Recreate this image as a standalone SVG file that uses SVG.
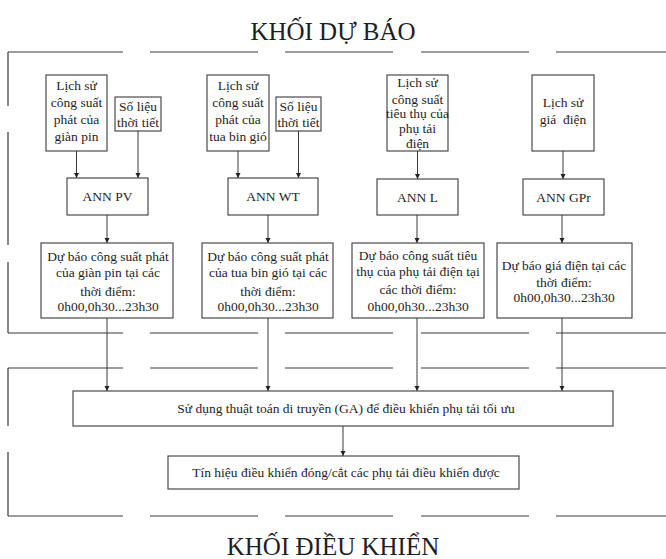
<svg xmlns="http://www.w3.org/2000/svg" width="666" height="559" viewBox="0 0 666 559">
<style>
.bx{fill:#fff;stroke:#3a3a3a;stroke-width:1.1}
.t{font-family:"Liberation Serif","Times New Roman",serif;font-size:13.5px;fill:#1e1e1e;text-anchor:middle}
.title{font-family:"Liberation Serif","Times New Roman",serif;font-size:25px;fill:#1e1e1e;text-anchor:middle}
.fr{stroke:#3a3a3a;stroke-width:1.2;fill:none}
.c{stroke:#3a3a3a;stroke-width:1;fill:none;marker-end:url(#ah)}
</style>
<defs>
<marker id="ah" markerUnits="userSpaceOnUse" markerWidth="6" markerHeight="6" refX="5" refY="2.5" orient="auto">
<path d="M0,0 L5,2.5 L0,5 z" fill="#222"/>
</marker>
</defs>
<rect width="666" height="559" fill="#fff"/>

<text class="title" x="333" y="40">KHỐI DỰ BÁO</text>
<text class="title" x="333" y="555">KHỐI ĐIỀU KHIỂN</text>

<g id="frames">
<path class="fr" d="M8,52H123M150,52H258M285,52H393M421,52H529M556,52H666"/>
<path class="fr" d="M8,333H123M150,333H258M285,333H393M421,333H529M556,333H666"/>
<path class="fr" d="M8,52V106M8,132V245M8,262V333"/>
<path class="fr" d="M8,368H123M150,368H258M285,368H393M421,368H529M556,368H666"/>
<path class="fr" d="M8,516H123M150,516H258M285,516H393M421,516H529M556,516H666"/>
<path class="fr" d="M8,368V426M8,452V516"/>
</g>

<g id="connectors">
<path class="c" d="M76.5,151V178"/>
<path class="c" d="M138,131V178"/>
<path class="c" d="M238,151V178"/>
<path class="c" d="M298.5,131V178"/>
<path class="c" d="M417.5,151V179"/>
<path class="c" d="M563,151V179"/>
<path class="c" d="M107,215V243"/>
<path class="c" d="M268,215V243"/>
<path class="c" d="M417,215V243"/>
<path class="c" d="M562,215V243"/>
<path class="c" d="M107,318V391"/>
<path class="c" d="M268,318V391"/>
<path class="c" d="M417,318V391"/>
<path class="c" d="M562,318V391"/>
<path class="c" d="M343,426V456"/>
</g>

<g id="pv-hist"><rect class="bx" x="46" y="75" width="61" height="76"/>
<text class="t" x="76.5" y="90">Lịch sử</text><text class="t" x="76.5" y="107">công suất</text><text class="t" x="76.5" y="124">phát của</text><text class="t" x="76.5" y="141">giàn pin</text></g>
<g id="pv-weather"><rect class="bx" x="115" y="97" width="46" height="34"/>
<text class="t" x="138" y="111">Số liệu</text><text class="t" x="138" y="127">thời tiết</text></g>
<g id="wt-hist"><rect class="bx" x="207" y="75" width="62" height="76"/>
<text class="t" x="238" y="90">Lịch sử</text><text class="t" x="238" y="107">công suất</text><text class="t" x="238" y="124">phát của</text><text class="t" x="238" y="141">tua bin gió</text></g>
<g id="wt-weather"><rect class="bx" x="276" y="97" width="45" height="34"/>
<text class="t" x="298.5" y="111">Số liệu</text><text class="t" x="298.5" y="127">thời tiết</text></g>
<g id="l-hist"><rect class="bx" x="387" y="75" width="61" height="76"/>
<text class="t" x="417.5" y="87">Lịch sử</text><text class="t" x="417.5" y="104">công suất</text><text class="t" x="417.5" y="118">tiêu thụ của</text><text class="t" x="417.5" y="133">phụ tải</text><text class="t" x="417.5" y="148">điện</text></g>
<g id="gpr-hist"><rect class="bx" x="532" y="75" width="62" height="76"/>
<text class="t" x="563" y="107">Lịch sử</text><text class="t" x="563" y="124" xml:space="preserve">giá  điện</text></g>

<g id="ann-pv"><rect class="bx" x="67" y="178" width="81" height="37"/><text class="t" x="107.5" y="201">ANN PV</text></g>
<g id="ann-wt"><rect class="bx" x="228" y="178" width="90" height="37"/><text class="t" x="273" y="201">ANN WT</text></g>
<g id="ann-l"><rect class="bx" x="377" y="179" width="81" height="36"/><text class="t" x="417.5" y="202">ANN L</text></g>
<g id="ann-gpr"><rect class="bx" x="523" y="179" width="81" height="36"/><text class="t" x="563.5" y="202">ANN GPr</text></g>

<g id="fc-pv"><rect class="bx" x="41" y="243" width="132" height="75"/>
<text class="t" x="108" y="261">Dự báo công suất phát</text><text class="t" x="108" y="277">của giàn pin tại các</text><text class="t" x="108" y="296">thời điểm:</text><text class="t" x="108" y="311">0h00,0h30...23h30</text></g>
<g id="fc-wt"><rect class="bx" x="202" y="243" width="131" height="75"/>
<text class="t" x="268" y="261">Dự báo công suất phát</text><text class="t" x="268" y="277">của tua bin gió tại các</text><text class="t" x="268" y="296">thời điểm:</text><text class="t" x="268" y="311">0h00,0h30...23h30</text></g>
<g id="fc-l"><rect class="bx" x="352" y="243" width="132" height="75"/>
<text class="t" x="418" y="260">Dự báo công suất tiêu</text><text class="t" x="418" y="276">thụ của phụ tải điện tại</text><text class="t" x="418" y="294">các thời điểm:</text><text class="t" x="418" y="311">0h00,0h30...23h30</text></g>
<g id="fc-gpr"><rect class="bx" x="497" y="243" width="135" height="75"/>
<text class="t" x="564" y="270">Dự báo giá điện tại các</text><text class="t" x="564" y="287">thời điểm:</text><text class="t" x="564" y="302">0h00,0h30...23h30</text></g>

<g id="ga"><rect class="bx" x="73" y="391" width="540" height="35"/>
<text class="t" x="346" y="413">Sử dụng thuật toán di truyền (GA) để điều khiển phụ tải tối ưu</text></g>
<g id="signal"><rect class="bx" x="168" y="456" width="351" height="33"/>
<text class="t" x="346" y="477">Tín hiệu điều khiển đóng/cắt các phụ tải điều khiển được</text></g>
</svg>
